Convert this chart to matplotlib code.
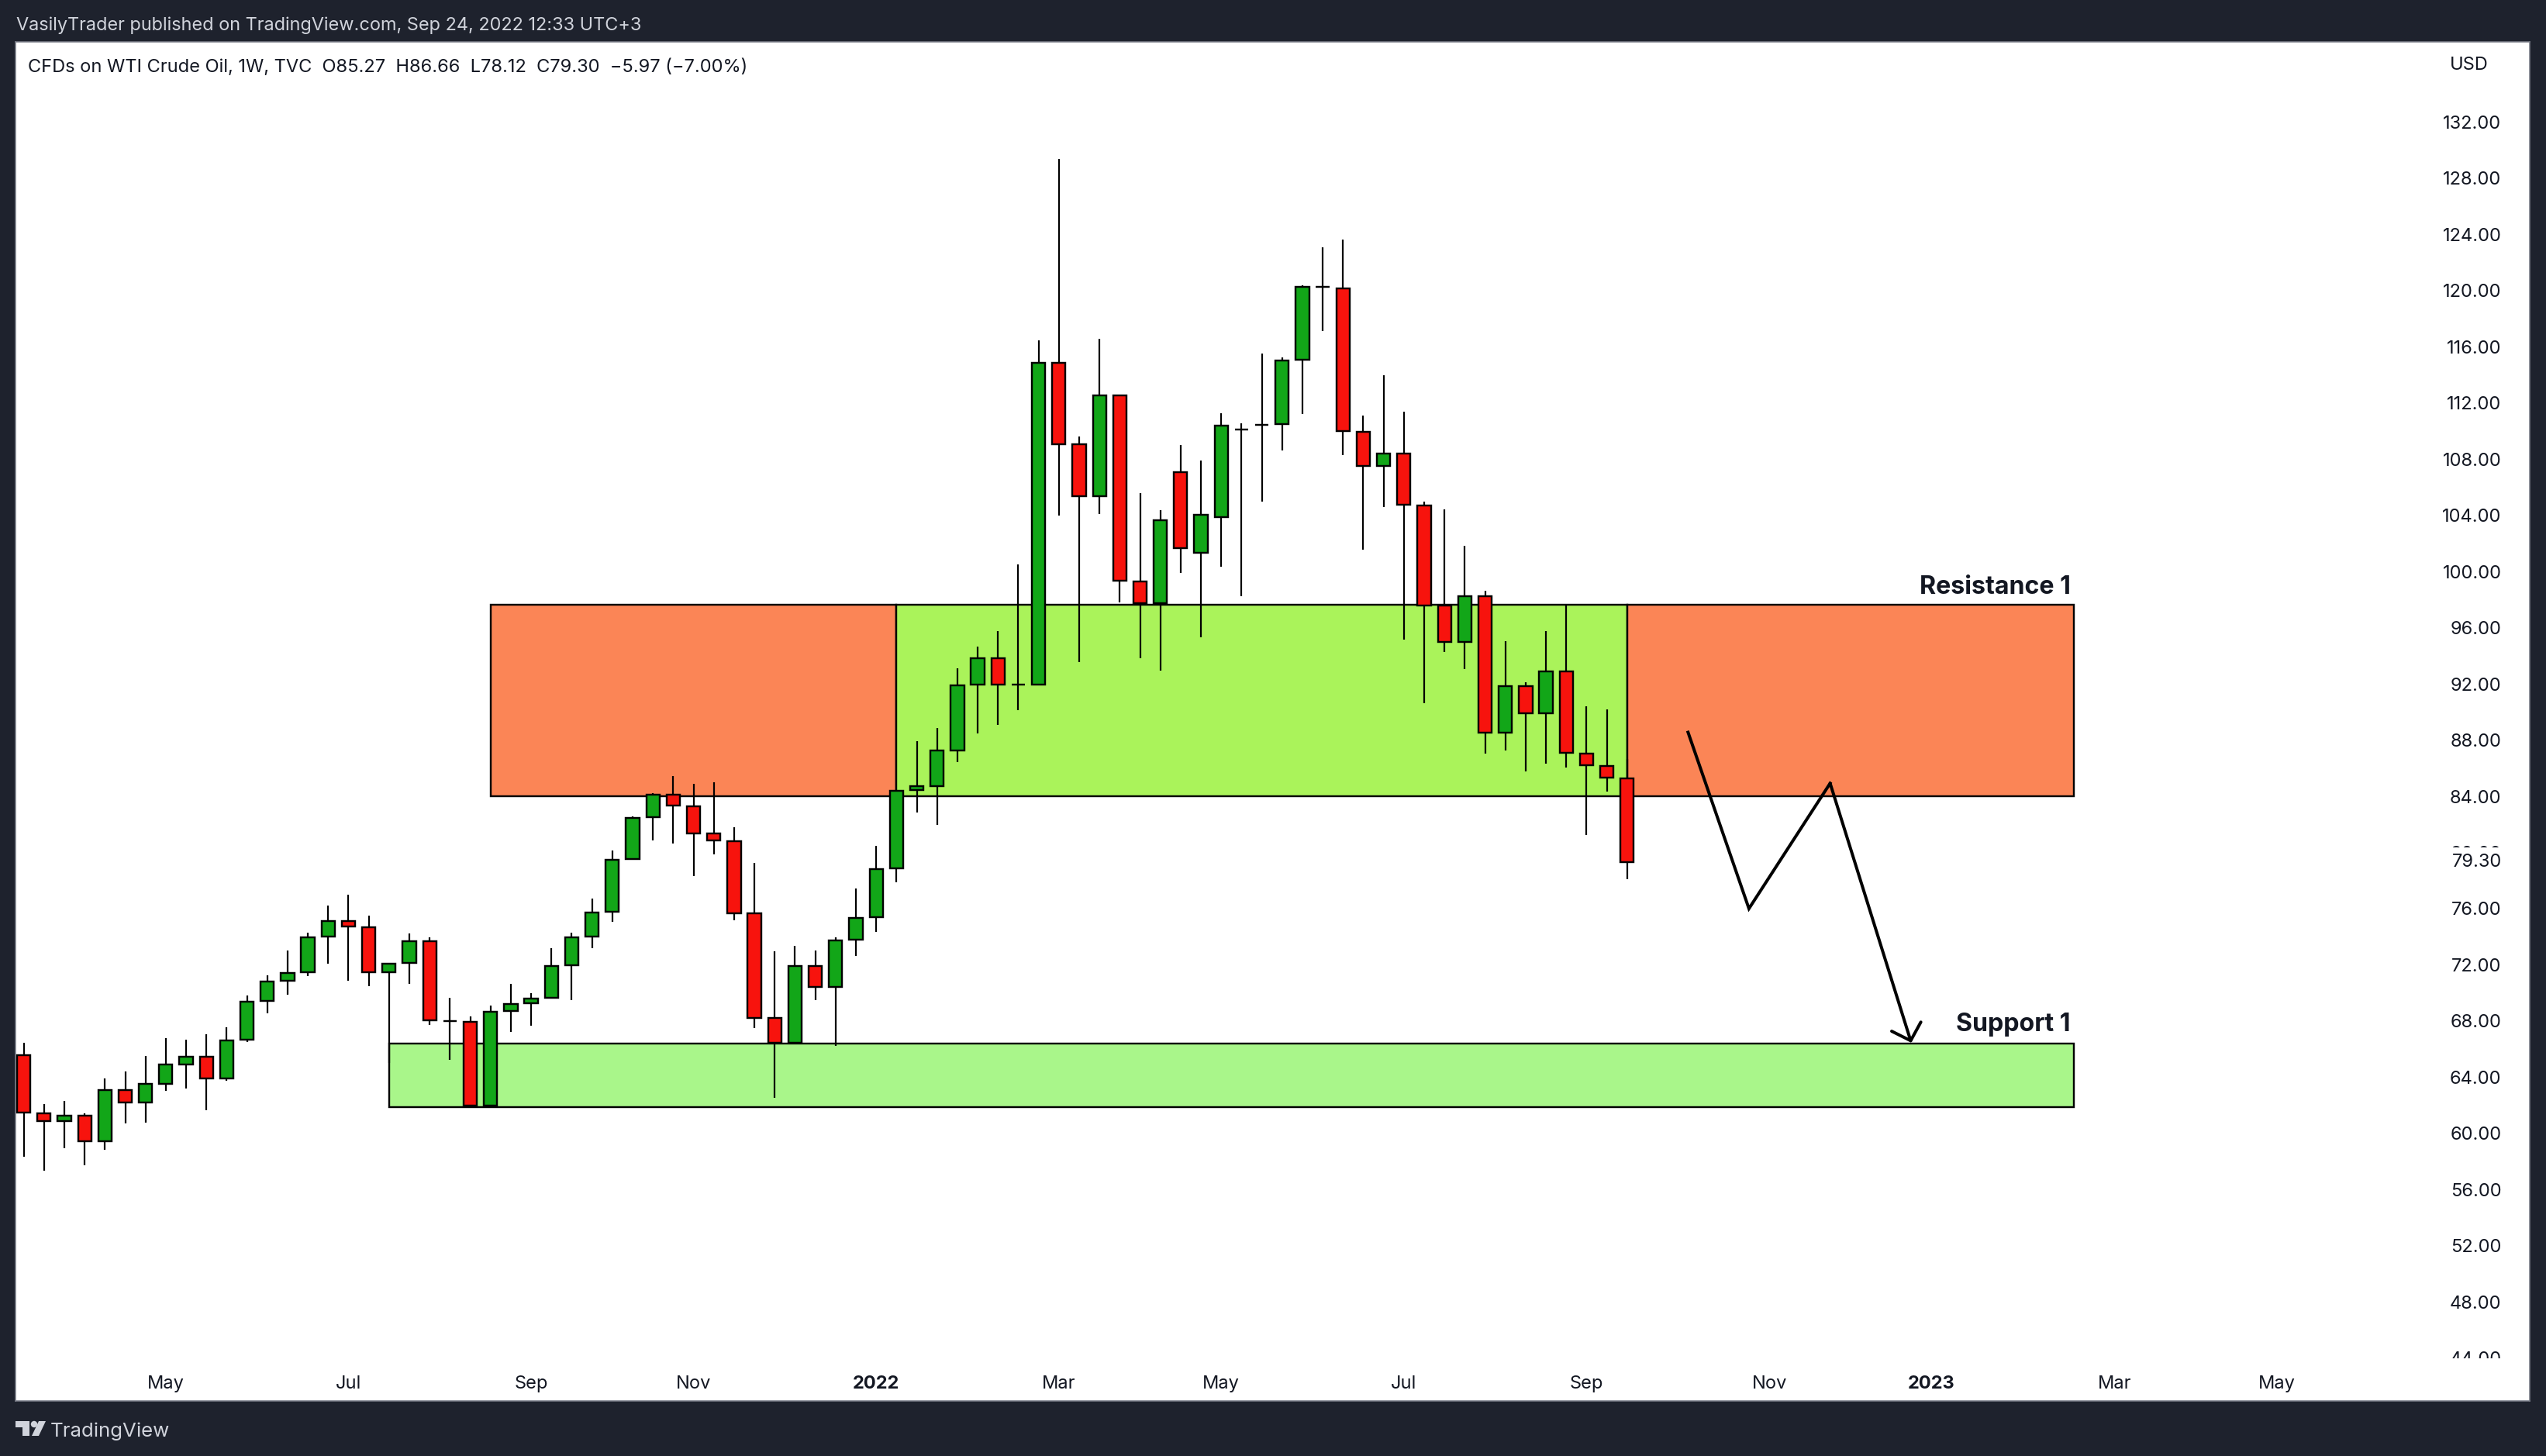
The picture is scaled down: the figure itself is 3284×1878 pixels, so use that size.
import matplotlib
matplotlib.use("Agg")
import matplotlib.pyplot as plt
from matplotlib.patches import Rectangle, Circle, Polygon
from matplotlib.transforms import Bbox

plt.rcParams['font.family'] = ['Inter', 'DejaVu Sans']

# ---- data -----
opens = [65.57,61.45,60.87,61.29,59.44,63.10,62.20,63.52,64.89,65.47,63.91,66.65,69.41,70.85,71.46,74.00,75.12,74.69,71.46,72.13,
         73.70,68.01,67.95,61.98,68.70,69.25,69.64,71.95,74.00,75.75,79.52,82.50,84.13,83.30,81.33,80.82,75.64,68.19,66.45,71.93,
         70.41,73.78,75.38,78.85,84.43,84.74,87.25,91.94,93.82,91.94,91.94,114.85,109.05,105.35,112.54,99.30,97.72,107.07,101.32,103.88,
         110.09,110.42,110.49,115.05,120.25,120.15,109.93,107.50,108.39,104.69,97.58,94.97,98.26,88.51,91.86,89.89,92.91,87.04,86.16,85.27]
highs = [66.45,62.10,62.31,61.43,63.91,64.40,65.51,66.79,66.67,67.06,67.56,69.82,71.26,73.01,74.30,76.23,77.00,75.50,72.09,74.24,
         73.94,69.64,68.32,69.09,70.65,69.98,73.19,74.30,76.72,80.13,82.59,84.23,85.43,84.88,85.00,81.79,79.26,72.96,73.35,73.02,
         73.94,77.43,80.47,84.41,87.92,88.86,93.13,94.63,95.77,100.51,116.45,129.37,109.58,116.55,112.54,105.58,104.38,109.00,107.88,111.28,
         110.57,115.51,115.23,120.35,123.06,123.62,111.10,113.96,111.38,104.99,104.41,101.85,98.63,95.04,92.10,95.76,97.64,90.41,90.18,86.66]
lows = [58.33,57.35,58.94,57.74,58.84,60.72,60.78,63.02,63.20,61.64,63.75,66.51,68.54,69.88,71.20,72.09,70.87,70.47,65.00,70.67,
        67.71,65.25,61.98,61.98,67.22,67.67,69.64,69.49,73.19,75.06,79.52,80.86,80.64,78.32,79.86,75.16,67.50,62.53,66.45,69.49,
        66.24,72.64,74.34,77.88,82.85,81.96,86.44,88.47,89.10,90.14,91.94,104.00,93.54,104.08,97.80,93.82,92.93,99.90,95.31,100.33,
        98.25,104.97,108.62,111.20,117.11,108.29,101.55,104.59,95.13,90.64,94.27,93.05,87.04,87.26,85.77,86.32,86.05,81.26,84.33,78.12]
closes = [61.49,60.87,61.29,59.44,63.10,62.20,63.50,64.88,65.47,63.91,66.63,69.39,70.83,71.44,73.98,75.12,74.71,71.46,72.09,73.70,
          68.05,68.01,61.98,68.68,69.23,69.60,71.93,73.98,75.73,79.50,82.48,84.13,83.32,81.33,80.84,75.68,68.21,66.45,71.93,70.41,
          73.75,75.36,78.83,84.41,84.74,87.23,91.89,93.82,91.97,91.94,114.85,109.07,105.35,112.54,99.32,97.72,103.65,101.65,104.03,110.39,
          110.09,110.42,115.03,120.27,120.25,109.98,107.50,108.39,104.74,97.57,94.97,98.26,88.51,91.86,89.89,92.91,87.09,86.19,85.31,79.30]

y_ticks = [44,48,52,56,60,64,68,72,76,80,84,88,92,96,100,104,108,112,116,120,124,128,132]
x_tick_pos = [7,16,25,33,42,51,59,68,77,86,94,103,111]
x_tick_lab = ["May","Jul","Sep","Nov","2022","Mar","May","Jul","Sep","Nov","2023","Mar","May"]
bold_ticks = {"2022","2023"}

zone_start = [23,43,79,18]
zone_end = [43,79,101,101]
zone_top = [97.64,97.64,97.64,66.41]
zone_bottom = [84.02,84.02,84.02,61.88]

path_x = [82,85,89,93]
path_y = [88.55,76.0,84.92,66.45]
last_close = 79.30

# ---- style -----
W, H = 3284, 1878
DPI = 100
BG = '#1e222d'
CANDLE_UP = '#12a618'
CANDLE_DN = '#f7130d'
ZONE_COL = ['#fb8556','#aaf35a','#fb8556','#a9f68a']
INK = '#131722'
PX = 72.0 / DPI

L, T, R, B = 20, 54, 3263, 1807
X0, DX = 30.6, 26.18
Y84, DY = 1027.0, 18.12

fig = plt.figure(figsize=(W / DPI, H / DPI), dpi=DPI, facecolor=BG)
ax = fig.add_axes([L / W, 1 - B / H, (R - L) / W, (B - T) / H], facecolor='white')
ax.set_xlim((L - X0) / DX, (R - X0) / DX)
ax.set_ylim(84 - (B - Y84) / DY, 84 - (T - Y84) / DY)
for s in ax.spines.values():
    s.set_color('#787b86')
    s.set_linewidth(1.6 * PX)

# zones
for s, e, t, b, c in zip(zone_start, zone_end, zone_top, zone_bottom, ZONE_COL):
    ax.add_patch(Rectangle((s, b), e - s, t - b, facecolor=c, edgecolor='black',
                           linewidth=2.4 * PX, zorder=1))

# candles
idx = list(range(len(opens)))
ax.vlines(idx, lows, highs, colors='black', linewidth=2.2 * PX, zorder=2)
colors = [CANDLE_DN if c < o else CANDLE_UP for o, c in zip(opens, closes)]
bottoms = [min(o, c) for o, c in zip(opens, closes)]
heights = [abs(o - c) for o, c in zip(opens, closes)]
ax.bar(idx, heights, bottom=bottoms, width=0.66, color=colors, edgecolor='black',
       linewidth=2.4 * PX, zorder=3)

# projected path
ax.plot(path_x[:-1], path_y[:-1], color='black', lw=4 * PX, zorder=4, solid_joinstyle='miter')
ax.annotate('', xy=(path_x[-1], path_y[-1]), xytext=(path_x[-2], path_y[-2]), zorder=4,
            arrowprops=dict(arrowstyle='->,head_length=13.7,head_width=14.2', mutation_scale=1,
                            color='black', lw=4 * PX, shrinkA=0, shrinkB=0))

# axis ticks inside the pane
ax.yaxis.tick_right()
ax.set_yticks(y_ticks)
ax.set_yticklabels([f"{v:.2f}" for v in y_ticks], ha='right', fontsize=17, color=INK)
ax.tick_params(axis='y', length=0, pad=-36.5 * PX)
ax.set_xticks(x_tick_pos)
ax.set_xticklabels(x_tick_lab, fontsize=17, color=INK)
ax.tick_params(axis='x', length=0, pad=-33 * PX)
for lab in ax.get_xticklabels():
    lab.set_va('top')
    if lab.get_text() in bold_ticks:
        lab.set_fontweight('bold')

# clip price labels at the top of the time scale; the label behind the last price shows only a sliver
for v, lab in zip(y_ticks, ax.get_yticklabels()):
    top = H - 58
    bottom = H - 1752
    if v == 80:
        bottom = H - 1093
    lab.set_clip_box(Bbox([[L, bottom], [R, top]]))
    lab.set_clip_on(True)

# current price label
fx = (3226.7 - L) / (R - L)
ax.text(fx, last_close, f"{last_close:.2f}", transform=ax.get_yaxis_transform(), ha='right', va='center',
        fontsize=17, color=INK, zorder=6)

# zone names
ax.text(100.85, 98.0, "Resistance 1", ha='right', va='bottom', fontsize=23.2, fontweight='bold', color=INK, zorder=5)
ax.text(100.85, 66.87, "Support 1", ha='right', va='bottom', fontsize=23.2, fontweight='bold', color=INK, zorder=5)

# frame text
def fig_xy(px, py):
    return px / W, 1 - py / H

fig.text(*fig_xy(21, 33), "VasilyTrader published on TradingView.com, Sep 24, 2022 12:33 UTC+3",
         fontsize=16.9, color='#d1d4dc', va='center', ha='left')
fig.text(*fig_xy(36, 86.5), "CFDs on WTI Crude Oil, 1W, TVC  O85.27  H86.66  L78.12  C79.30  \u22125.97 (\u22127.00%)",
         fontsize=17, color=INK, va='center', ha='left')
fig.text(*fig_xy(3160, 83.5), "USD", fontsize=17, color=INK, va='center', ha='left')
fig.text(*fig_xy(65, 1846), "TradingView", fontsize=18.6, color='#d1d4dc', va='center', ha='left')

# logo
def poly(pts):
    fig.patches.append(Polygon([fig_xy(*p) for p in pts], closed=True, facecolor='#d1d4dc',
                               edgecolor='none', transform=fig.transFigure, figure=fig))
poly([(20,1833),(38,1833),(38,1852),(29,1852),(29,1841),(20,1841)])
poly([(50,1833),(59,1833),(50,1852),(41,1852)])
fig.patches.append(Circle((44, H - 1837), 4.2, facecolor='#d1d4dc', edgecolor='none',
                          transform=None, figure=fig))

fig.savefig("out.png", dpi=DPI, facecolor=BG)
